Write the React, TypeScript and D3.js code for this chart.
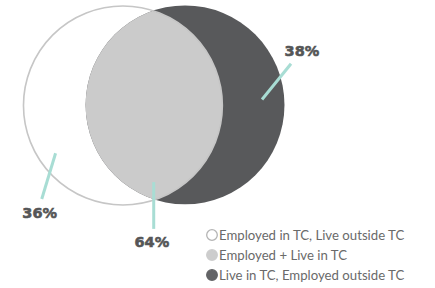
import React from "react";
import * as d3 from "d3";

// sets shown in the venn
const categories = [
  "Employed in TC, Live outside TC",
  "Employed + Live in TC",
  "Live in TC, Employed outside TC",
];
const percents = [36, 64, 38];
const legendFills = ["#ffffff", "#cdcdcd", "#636466"];
const legendStrokes = ["#b4b4b4", "#cdcdcd", "#636466"];

const W = 435;
const H = 288;

// venn units -> pixels
const ux = d3.scaleLinear().domain([0, 1]).range([24, 285]);
const uy = d3.scaleLinear().domain([0, 1]).range([6, 205]);
const R = (ux(1) - ux(0)) * 0.381;

const left = { cx: ux(0.379), cy: uy(0.5) };
const right = { cx: ux(0.617), cy: uy(0.497) };

// label anchor points (line start -> line end -> text)
const labels = [
  { x1: ux(0.121), y1: uy(0.74), x2: ux(0.068), y2: uy(0.97), tx: ux(0.06), ty: uy(1.065) },
  { x1: ux(0.497), y1: uy(0.885), x2: ux(0.497), y2: uy(1.12), tx: ux(0.49), ty: uy(1.21) },
  { x1: ux(0.912), y1: uy(0.47), x2: ux(1.023), y2: uy(0.29), tx: ux(1.065), ty: uy(0.25) },
];

const legendY = d3.scalePoint<number>().domain([0, 1, 2]).range([235, 275]);

export default function App() {
  return (
    <svg width={W} height={H} style={{ position: "absolute", left: 0, top: 0 }}>
      <defs>
        <clipPath id="leftClip">
          <circle cx={left.cx} cy={left.cy} r={R} />
        </clipPath>
      </defs>
      <circle cx={left.cx} cy={left.cy} r={R} fill="#fff" />
      <circle cx={right.cx} cy={right.cy} r={R} fill="#58595b" />
      <circle cx={right.cx} cy={right.cy} r={R} fill="#cbcbcb" clipPath="url(#leftClip)" />
      <circle cx={left.cx} cy={left.cy} r={R} fill="none" stroke="#c6c6c6" strokeWidth={1.6} />

      {labels.map((l, i) => (
        <g key={i}>
          <line x1={l.x1} y1={l.y1} x2={l.x2} y2={l.y2} stroke="#a8ddd4" strokeWidth={3} />
          <text
            x={l.tx}
            y={l.ty}
            textAnchor="middle"
            fontFamily="DejaVu Sans"
            fontWeight="bold"
            fontSize={14.5}
            fill="#555657"
            stroke="#555657"
            strokeWidth={0.6}
          >
            {percents[i]}%
          </text>
        </g>
      ))}

      {categories.map((c, i) => (
        <g key={c} transform={`translate(212,${legendY(i)})`}>
          <circle r={5.3} fill={legendFills[i]} stroke={legendStrokes[i]} strokeWidth={1.3} />
          <text x={7} y={4.6} fontFamily="Lato" fontSize={13.2} fill="#6a6a6a">
            {c}
          </text>
        </g>
      ))}
    </svg>
  );
}
